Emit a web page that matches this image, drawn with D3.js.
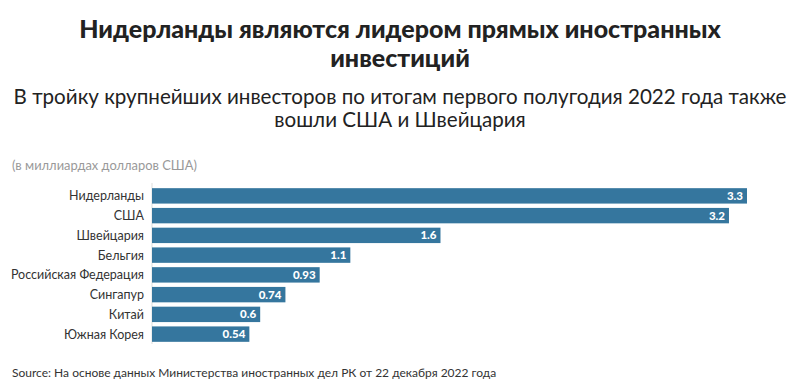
<!DOCTYPE html>
<html><head><meta charset="utf-8">
<script src="https://cdn.jsdelivr.net/npm/d3@7"></script>
<style>body{margin:0;background:#fff;} svg{display:block;font-family:Lato,"Noto Sans",sans-serif;}</style>
</head><body><div id="chart"></div>
<script>
const categories = ["Нидерланды","США","Швейцария","Бельгия","Российская Федерация","Сингапур","Китай","Южная Корея"];
const values = [3.3,3.2,1.6,1.1,0.93,0.74,0.6,0.54];
const valueLabels = ["3.3","3.2","1.6","1.1","0.93","0.74","0.6","0.54"];
const titleLines = ["Нидерланды являются лидером прямых иностранных","инвестиций"];
const subtitleLines = ["В тройку крупнейших инвесторов по итогам первого полугодия 2022 года также","вошли США и Швейцария"];
const unitLabel = "(в миллиардах долларов США)";
const sourceText = "Source: На основе данных Министерства иностранных дел РК от 22 декабря 2022 года";

const W=800,H=380;
const svg=d3.select("#chart").append("svg").attr("width",W).attr("height",H);

svg.selectAll("text.title").data(titleLines).join("text").attr("class","title")
  .attr("x",400).attr("y",(d,i)=>38+i*29).attr("text-anchor","middle")
  .attr("font-size",25).attr("font-weight",900).attr("fill","#222").text(d=>d);
svg.selectAll("text.sub").data(subtitleLines).join("text").attr("class","sub")
  .attr("x",400).attr("y",(d,i)=>104+i*23).attr("text-anchor","middle")
  .attr("font-size",20.6).attr("fill","#222").text(d=>d);
svg.append("text").attr("x",12).attr("y",170).attr("font-size",12.9).attr("fill","#999").text(unitLabel);
svg.append("text").attr("x",12).attr("y",377).attr("font-size",12).attr("fill","#333").text(sourceText);

const x=d3.scaleLinear().domain([0,3.3]).range([152,747]);
const y=d3.scaleBand().domain(categories).range([186,344]).paddingInner(0.22).paddingOuter(0.11);

svg.append("line").attr("x1",152).attr("x2",152).attr("y1",183).attr("y2",344).attr("stroke","#ddd");

svg.selectAll("rect.bar").data(values).join("rect").attr("class","bar")
  .attr("x",x(0)).attr("y",(d,i)=>y(categories[i])).attr("width",d=>x(d)-x(0))
  .attr("height",y.bandwidth()).attr("fill","#35769e");

svg.selectAll("text.cat").data(categories).join("text").attr("class","cat")
  .attr("x",144).attr("y",d=>y(d)+y.bandwidth()/2).attr("dy","0.35em")
  .attr("text-anchor","end").attr("font-size",12.5).attr("fill","#333").text(d=>d);

svg.selectAll("text.val").data(values).join("text").attr("class","val")
  .attr("x",d=>x(d)-4).attr("y",(d,i)=>y(categories[i])+y.bandwidth()/2).attr("dy","0.35em")
  .attr("text-anchor","end").attr("font-size",11.5).attr("font-weight",900).attr("fill","#fff")
  .text((d,i)=>valueLabels[i]);
</script></body></html>
